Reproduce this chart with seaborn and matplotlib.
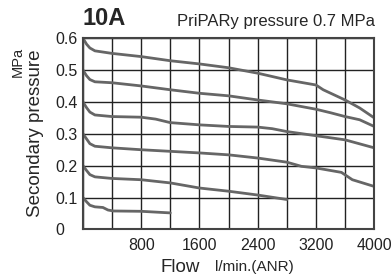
import pandas as pd
import seaborn as sns
import matplotlib.pyplot as plt

# flow (l/min ANR) vs secondary pressure (MPa) for each set pressure
flow_06 = [0, 50, 96, 165, 400, 800, 1200, 1600, 2000, 2400, 2800, 3200, 3300, 3600, 3800, 4000]
p_06 = [0.600, 0.581, 0.569, 0.560, 0.552, 0.542, 0.529, 0.519, 0.507, 0.490, 0.469, 0.453, 0.438, 0.406, 0.381, 0.350]

flow_05 = [0, 50, 96, 165, 400, 800, 1200, 1600, 2000, 2400, 2800, 3200, 3400, 3600, 3800, 4000]
p_05 = [0.500, 0.482, 0.470, 0.463, 0.460, 0.450, 0.438, 0.427, 0.419, 0.406, 0.394, 0.377, 0.366, 0.354, 0.344, 0.323]

flow_04 = [0, 50, 96, 165, 400, 800, 1000, 1200, 1600, 2000, 2400, 2600, 2800, 3200, 3600, 4000]
p_04 = [0.400, 0.382, 0.368, 0.359, 0.354, 0.352, 0.346, 0.335, 0.328, 0.323, 0.321, 0.316, 0.307, 0.294, 0.281, 0.256]

flow_03 = [0, 50, 96, 165, 400, 800, 1200, 1600, 2000, 2400, 2800, 3000, 3200, 3550, 3700, 4000]
p_03 = [0.300, 0.284, 0.269, 0.261, 0.256, 0.250, 0.245, 0.240, 0.234, 0.224, 0.211, 0.198, 0.193, 0.179, 0.156, 0.135]

flow_02 = [0, 50, 96, 165, 400, 800, 1200, 1600, 2000, 2400, 2800]
p_02 = [0.200, 0.185, 0.172, 0.165, 0.160, 0.156, 0.146, 0.130, 0.120, 0.108, 0.094]

flow_01 = [0, 50, 96, 165, 275, 345, 420, 800, 1200]
p_01 = [0.100, 0.087, 0.076, 0.071, 0.069, 0.061, 0.058, 0.057, 0.052]

set_labels = ['0.6', '0.5', '0.4', '0.3', '0.2', '0.1']
flows = [flow_06, flow_05, flow_04, flow_03, flow_02, flow_01]
pressures = [p_06, p_05, p_04, p_03, p_02, p_01]

x_grid = list(range(0, 4001, 400))
x_labels = ['', '', '800', '', '1600', '', '2400', '', '3200', '', '4000']
y_ticks = [0, 0.1, 0.2, 0.3, 0.4, 0.5, 0.6]
y_labels = ['0', '0.1', '0.2', '0.3', '0.4', '0.5', '0.6']

rows = []
for lab, fl, pr in zip(set_labels, flows, pressures):
    for f, p in zip(fl, pr):
        rows.append({'set': lab, 'flow': f, 'pressure': p})
df = pd.DataFrame(rows)

sns.set_style('white')
plt.rcParams['font.family'] = ['Liberation Sans', 'DejaVu Sans']

fig = plt.figure(figsize=(3.91, 2.78), dpi=100)
ax = fig.add_axes([0.212, 0.1745, 0.745, 0.6885])

sns.lineplot(data=df, x='flow', y='pressure', units='set', estimator=None,
             color='#666666', linewidth=2.0, sort=False, ax=ax,
             solid_joinstyle='round', solid_capstyle='round')

ax.set_xlim(0, 4000)
ax.set_ylim(0, 0.6)
ax.set_xticks(x_grid)
ax.set_xticklabels(x_labels, fontsize=11.5)
ax.set_yticks(y_ticks)
ax.set_yticklabels(y_labels, fontsize=11.5, ha='left')
ax.tick_params(axis='y', length=0, pad=20, colors='#222222')
ax.tick_params(axis='x', length=0, pad=6, colors='#222222')
ax.grid(True, color='#222222', linewidth=1.0)
for s in ax.spines.values():
    s.set_color('#444444')
    s.set_linewidth(1.5)
ax.set_xlabel('')
ax.set_ylabel('')

fig.text(0.092, 0.522, 'Secondary pressure', rotation=90, ha='center', va='center', fontsize=13.5)
fig.text(0.046, 0.777, 'MPa', rotation=90, ha='center', va='center', fontsize=10.5)
fig.text(0.512, 0.036, 'Flow', ha='right', va='center', fontsize=13.5)
fig.text(0.550, 0.04, 'l/min.(ANR)', ha='left', va='center', fontsize=11)
fig.text(0.212, 0.934, '10A', ha='left', va='center', fontsize=17, fontweight='bold')
fig.text(0.453, 0.924, 'PriPARy pressure 0.7 MPa', ha='left', va='center', fontsize=12)

fig.savefig('out.png', dpi=100)
